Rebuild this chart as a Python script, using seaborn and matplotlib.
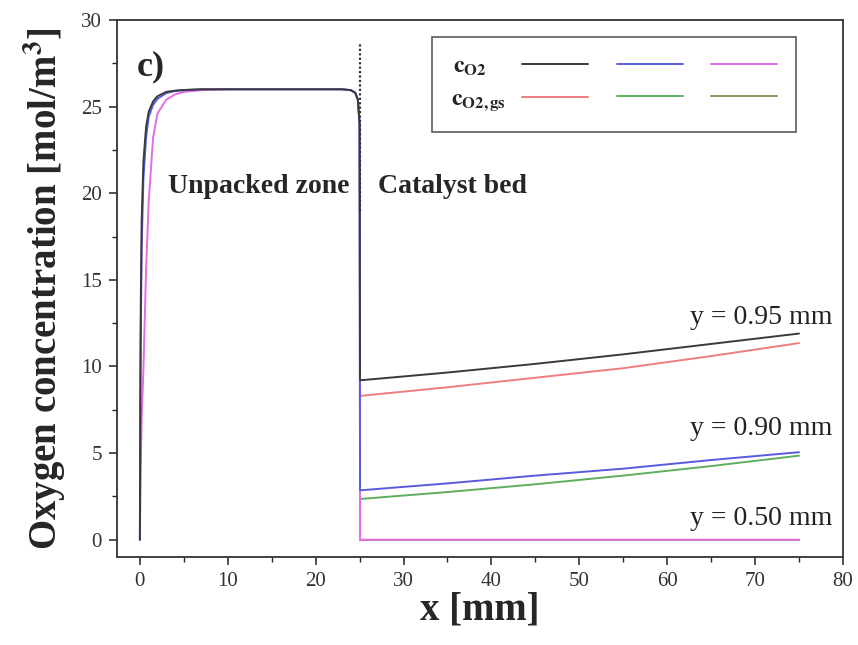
import matplotlib
matplotlib.use("Agg")
import matplotlib.pyplot as plt
from matplotlib.lines import Line2D
from matplotlib.ticker import MultipleLocator
import seaborn as sns
import pandas as pd

# ---------------- data ----------------
# unpacked zone (x in mm) for c_O2 curves
x_inlet = [0, 0.05, 0.1, 0.2, 0.4, 0.7, 1.0, 1.5, 2, 3, 4, 5, 7, 10, 15, 20, 23, 24, 24.5, 24.8, 25.0]
black_inlet = [0, 9, 13.5, 18.4, 21.8, 23.8, 24.7, 25.3, 25.6, 25.85, 25.92, 25.96, 26, 26, 26, 26, 26, 25.95, 25.8, 25.4, 24.0]
blue_inlet = [0, 7, 11.5, 16.8, 20.8, 23.2, 24.4, 25.1, 25.45, 25.78, 25.9, 25.95, 26, 26, 26, 26, 26, 25.95, 25.8, 25.4, 24.0]
magenta_inlet = [0, 2, 4, 7, 9.8, 15.5, 19.5, 23.2, 24.6, 25.4, 25.7, 25.85, 25.95, 26, 26, 26, 26, 25.95, 25.8, 25.4, 24.0]

# catalyst bed
x_bed = [25.05, 35, 45, 55, 65, 75]
black_bed = [9.2, 9.65, 10.15, 10.7, 11.3, 11.9]      # c_O2, y = 0.95 mm
red_bed = [8.3, 8.8, 9.35, 9.9, 10.6, 11.35]          # c_O2,gs, y = 0.95 mm
blue_bed = [2.85, 3.25, 3.7, 4.1, 4.6, 5.05]          # c_O2, y = 0.90 mm
green_bed = [2.35, 2.75, 3.2, 3.7, 4.25, 4.85]        # c_O2,gs, y = 0.90 mm
magenta_bed = [0.0, 0.0, 0.0, 0.0, 0.0, 0.0]          # c_O2, y = 0.50 mm
olive_bed = [0.0, 0.0, 0.0, 0.0, 0.0, 0.0]            # c_O2,gs, y = 0.50 mm

x_tick_vals = [0, 10, 20, 30, 40, 50, 60, 70, 80]
y_tick_vals = [0, 5, 10, 15, 20, 25, 30]

# ---------------- style ----------------
sns.set_theme(style="ticks")
plt.rcParams["font.family"] = ["Liberation Serif", "DejaVu Serif"]
plt.rcParams["mathtext.fontset"] = "stix"

C_BLACK = "#3a3a3a"
C_BLUE = "#5a5ae0"
C_MAG = "#e46ae8"
C_RED = "#ec7e80"
C_GREEN = "#5fae5f"
C_OLIVE = "#8f8f62"
LW = 1.4

fig = plt.figure(figsize=(8.58, 6.45), dpi=100)
ax = fig.add_axes([0.1364, 0.1364, 0.8461, 0.8326])

def draw(xs, ys, color, z=2):
    df = pd.DataFrame({"x": xs, "y": ys})
    sns.lineplot(data=df, x="x", y="y", ax=ax, color=color, lw=LW,
                 estimator=None, sort=False, zorder=z)

# c_O2,gs curves (catalyst bed only)
draw([25.0] + x_bed, [0.0] + olive_bed, C_OLIVE, 2)
draw(x_bed, red_bed, C_RED, 2)
draw(x_bed, green_bed, C_GREEN, 2)
# c_O2 curves
draw(x_inlet + x_bed, magenta_inlet + magenta_bed, C_MAG, 3)
draw(x_inlet + x_bed, blue_inlet + blue_bed, C_BLUE, 3)
draw(x_inlet + x_bed, black_inlet + black_bed, C_BLACK, 4)

# zone separator
ax.vlines(25.1, 19.0, 28.7, colors="#333333", linestyles=(0, (1, 1)), lw=1.6, zorder=5)

# axes
ax.set_xlim(-2.6, 80)
ax.set_ylim(-1.0, 30)
ax.set_xticks(x_tick_vals)
ax.set_yticks(y_tick_vals)
ax.xaxis.set_minor_locator(MultipleLocator(5))
ax.yaxis.set_minor_locator(MultipleLocator(2.5))
ax.tick_params(which="major", direction="out", length=6, width=1.2, labelsize=15,
               colors="#333333", pad=5)
ax.tick_params(which="minor", direction="out", length=3.5, width=1.0)
for s in ax.spines.values():
    s.set_visible(True)
    s.set_linewidth(1.3)
    s.set_color("#333333")

ax.set_xlabel("x [mm]", fontsize=28, fontweight="bold", labelpad=0)
ax.set_ylabel(r"Oxygen concentration [mol/m$^\mathbf{3}$]", fontsize=28,
              fontweight="bold", labelpad=9)

# annotations
ax.text(-0.3, 27.3, "c)", fontsize=26, fontweight="bold", va="center", ha="left")
ax.text(3.2, 20.4, "Unpacked zone", fontsize=20, fontweight="bold", va="center", ha="left")
ax.text(27.1, 20.4, "Catalyst bed", fontsize=20, fontweight="bold", va="center", ha="left")
ax.text(78.8, 12.8, "y = 0.95 mm", fontsize=20, va="center", ha="right", color="#222222")
ax.text(78.8, 6.4, "y = 0.90 mm", fontsize=20, va="center", ha="right", color="#222222")
ax.text(78.8, 1.2, "y = 0.50 mm", fontsize=20, va="center", ha="right", color="#222222")

# legend
handles = [Line2D([], [], color=C_BLACK, lw=LW), Line2D([], [], color=C_RED, lw=LW),
           Line2D([], [], color=C_BLUE, lw=LW), Line2D([], [], color=C_GREEN, lw=LW),
           Line2D([], [], color=C_MAG, lw=LW), Line2D([], [], color=C_OLIVE, lw=LW)]
labels = [r"$\mathbf{c}_{\mathbf{O2}}$" + "\u00a0" * 4,
          r"$\mathbf{c}_{\mathbf{O2,gs}}$", "", "", "", ""]
leg = ax.legend(handles, labels, ncol=3, markerfirst=False, loc="upper left",
                bbox_to_anchor=(0.434, 0.968), frameon=True, fancybox=False,
                edgecolor="#444444", fontsize=17, handlelength=2.8,
                columnspacing=0.5, handletextpad=0.7, labelspacing=0.45,
                borderpad=0.8, borderaxespad=0.0)
leg.get_frame().set_linewidth(1.3)

fig.savefig("out.png", dpi=100)
